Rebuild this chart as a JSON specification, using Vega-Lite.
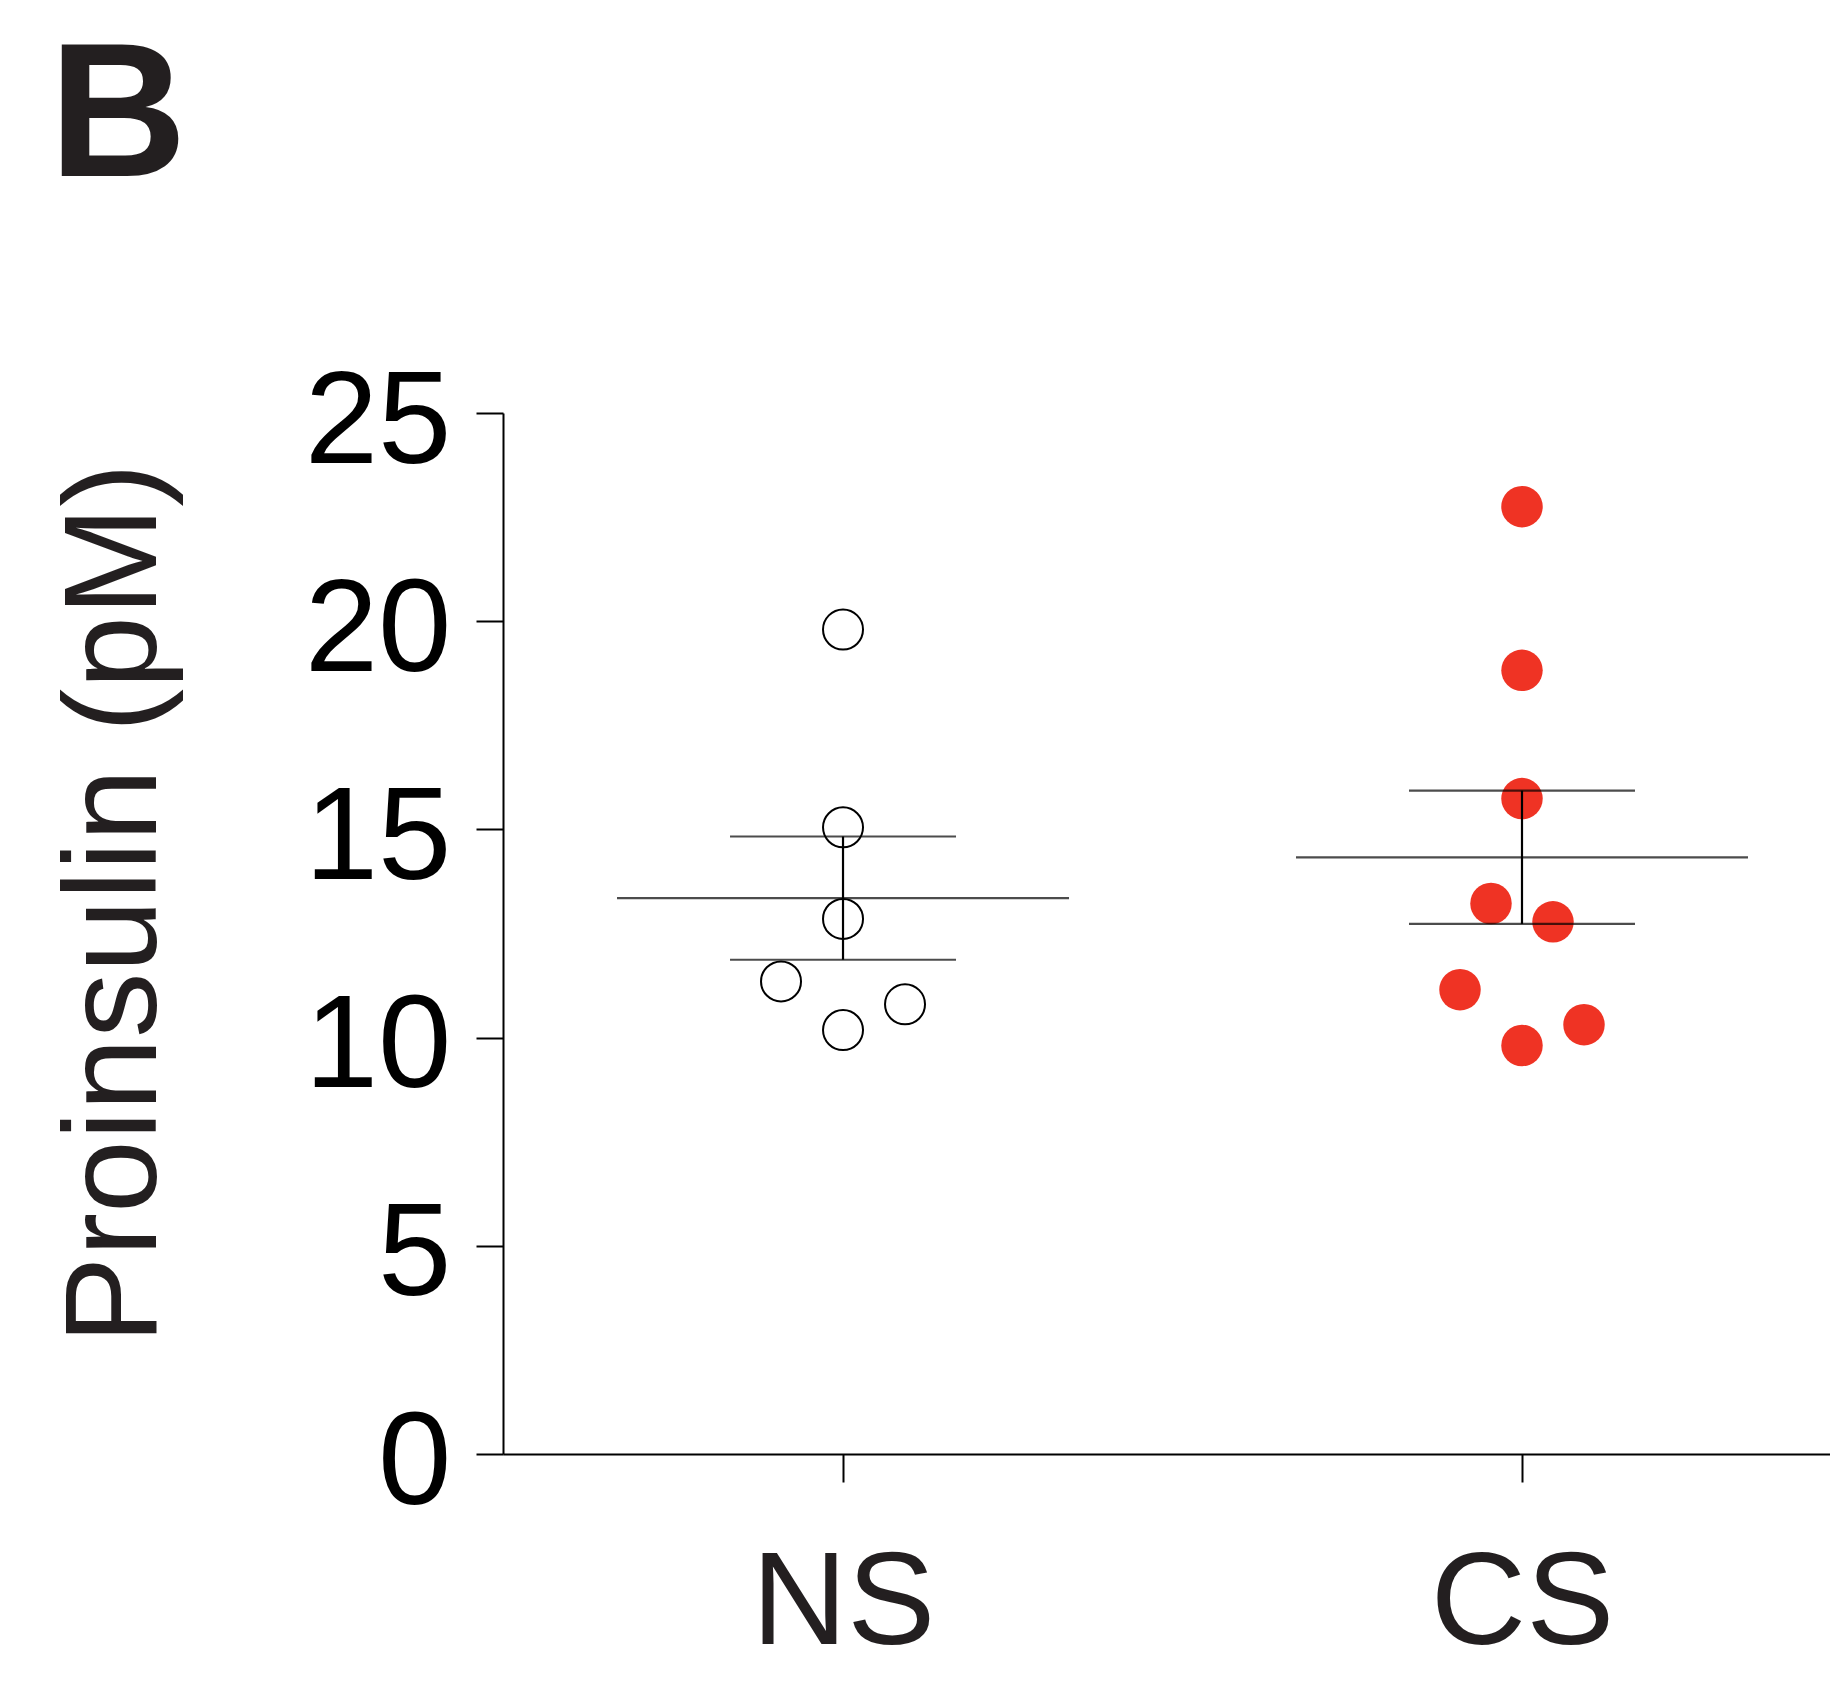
{
  "$schema": "https://vega.github.io/schema/vega-lite/v6.json",
  "autosize": {"type": "none"},
  "width": 1327,
  "height": 1041,
  "padding": {"left": 503, "top": 413, "right": 0, "bottom": 235},
  "background": "white",
  "title": {
    "text": "B",
    "anchor": "start",
    "frame": "group",
    "orient": "top",
    "font": "Liberation Sans",
    "fontSize": 191,
    "fontWeight": "bold",
    "color": "#231f20",
    "baseline": "alphabetic",
    "offset": 0,
    "limit": 0,
    "dx": -454,
    "dy": 11
  },
  "config": {"view": {"stroke": null}, "font": "Liberation Sans"},
  "datasets": {
    "points": [
      {"group": "NS", "value": 19.8, "col": 0},
      {"group": "NS", "value": 15.05, "col": 0},
      {"group": "NS", "value": 12.85, "col": 0},
      {"group": "NS", "value": 11.35, "col": -2},
      {"group": "NS", "value": 10.8, "col": 2},
      {"group": "NS", "value": 10.18, "col": 0},
      {"group": "CS", "value": 22.75, "col": 0},
      {"group": "CS", "value": 18.82, "col": 0},
      {"group": "CS", "value": 15.74, "col": 0},
      {"group": "CS", "value": 13.22, "col": -1},
      {"group": "CS", "value": 12.78, "col": 1},
      {"group": "CS", "value": 11.15, "col": -2},
      {"group": "CS", "value": 9.81, "col": 0},
      {"group": "CS", "value": 10.31, "col": 2}
    ],
    "summary": [
      {"group": "NS", "mean": 13.35, "lo": 11.87, "hi": 14.83},
      {"group": "CS", "mean": 14.33, "lo": 12.73, "hi": 15.93}
    ]
  },
  "encoding": {
    "x": {
      "field": "group",
      "type": "nominal",
      "sort": ["NS", "CS"],
      "scale": {"type": "point", "padding": 0.4772, "align": 0.5247},
      "axis": {
        "title": null,
        "grid": false,
        "domainColor": "#000000",
        "domainWidth": 2,
        "tickColor": "#000000",
        "tickWidth": 2,
        "tickSize": 28,
        "labelAngle": 0,
        "labelLimit": 0,
        "labelFont": "Liberation Sans",
        "labelFontSize": 132,
        "labelColor": "#231f20",
        "labelPadding": 57
      }
    }
  },
  "layer": [
    {
      "data": {"name": "points"},
      "transform": [{"filter": "datum.group === 'NS'"}],
      "mark": {"type": "point", "shape": "circle", "filled": false, "stroke": "#000000", "strokeWidth": 2, "size": 1600, "opacity": 1},
      "encoding": {
        "xOffset": {"field": "col", "type": "quantitative", "scale": {"domain": [-2, 2], "range": [-62, 62]}},
        "y": {
          "field": "value",
          "type": "quantitative",
          "scale": {"domain": [0, 25], "nice": false, "zero": true},
          "axis": {
            "values": [0, 5, 10, 15, 20, 25],
            "grid": false,
            "domainColor": "#000000",
            "domainWidth": 2,
            "tickColor": "#000000",
            "tickWidth": 2,
            "tickSize": 27,
            "labelFont": "Liberation Sans",
            "labelFontSize": 132,
            "labelColor": "#000000",
            "labelPadding": 25,
            "labelBaseline": "alphabetic",
            "labelOffset": 49,
            "labelLimit": 0,
            "title": "Proinsulin (pM)",
            "titleFont": "Liberation Sans",
            "titleFontSize": 131,
            "titleFontWeight": "normal",
            "titleColor": "#231f20",
            "titleAngle": -90,
            "titleAlign": "center",
            "titleBaseline": "alphabetic",
            "titleLimit": 0,
            "titleX": -348,
            "titleY": 490
          }
        }
      }
    },
    {
      "data": {"name": "points"},
      "transform": [{"filter": "datum.group === 'CS'"}],
      "mark": {"type": "circle", "color": "#ef3324", "size": 1720, "opacity": 1},
      "encoding": {
        "xOffset": {"field": "col", "type": "quantitative", "scale": {"domain": [-2, 2], "range": [-62, 62]}},
        "y": {"field": "value", "type": "quantitative"}
      }
    },
    {
      "data": {"name": "summary"},
      "mark": {"type": "tick", "orient": "horizontal", "color": "#000000", "size": 452, "thickness": 2.2},
      "encoding": {"y": {"field": "mean", "type": "quantitative"}}
    },
    {
      "data": {"name": "summary"},
      "mark": {"type": "tick", "orient": "horizontal", "color": "#000000", "size": 226, "thickness": 2.2},
      "encoding": {"y": {"field": "lo", "type": "quantitative"}}
    },
    {
      "data": {"name": "summary"},
      "mark": {"type": "tick", "orient": "horizontal", "color": "#000000", "size": 226, "thickness": 2.2},
      "encoding": {"y": {"field": "hi", "type": "quantitative"}}
    },
    {
      "data": {"name": "summary"},
      "mark": {"type": "rule", "color": "#000000", "strokeWidth": 2.2},
      "encoding": {
        "y": {"field": "lo", "type": "quantitative"},
        "y2": {"field": "hi"}
      }
    }
  ]
}
